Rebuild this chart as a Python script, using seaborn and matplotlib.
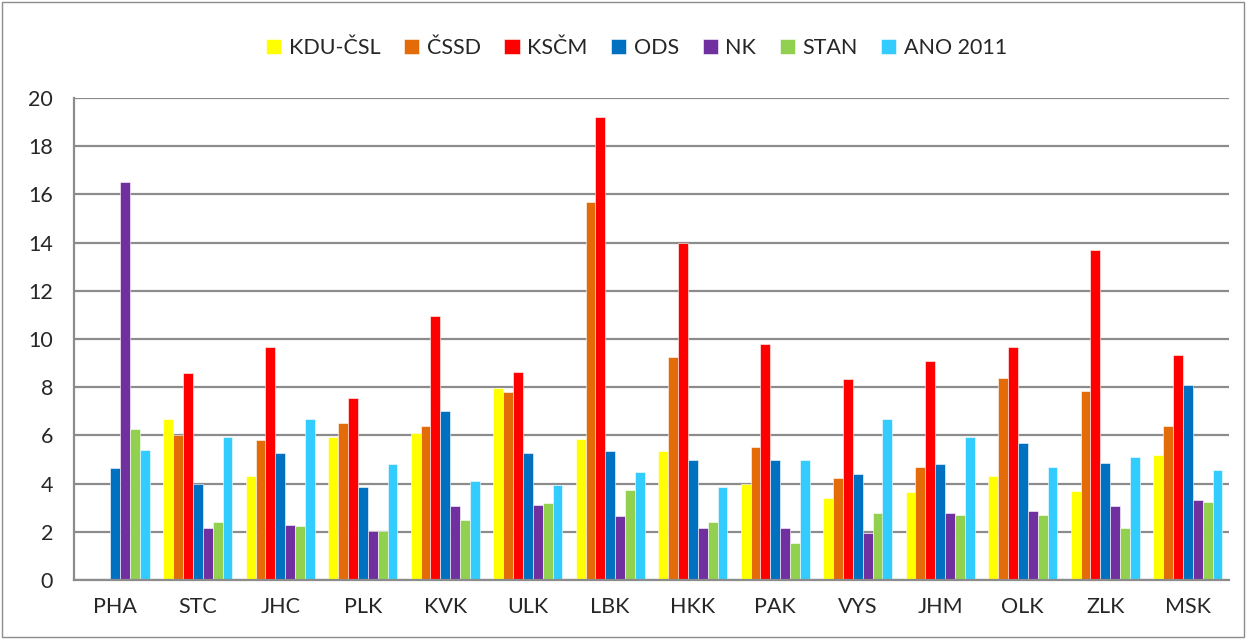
import matplotlib
matplotlib.use('Agg')
import matplotlib.pyplot as plt
import seaborn as sns
import pandas as pd
import numpy as np

# regions (kraje)
regions = ['PHA', 'STC', 'JHC', 'PLK', 'KVK', 'ULK', 'LBK', 'HKK', 'PAK', 'VYS', 'JHM', 'OLK', 'ZLK', 'MSK']
parties = ['KDU-ČSL', 'ČSSD', 'KSČM', 'ODS', 'NK', 'STAN', 'ANO 2011']

kdu = [0, 6.7, 4.3, 5.95, 6.1, 7.95, 5.85, 5.35, 4.0, 3.4, 3.65, 4.3, 3.7, 5.2]
cssd = [0, 6.0, 5.8, 6.5, 6.4, 7.8, 15.7, 9.25, 5.5, 4.25, 4.7, 8.4, 7.85, 6.4]
kscm = [0, 8.6, 9.65, 7.55, 10.95, 8.65, 19.2, 14.0, 9.8, 8.35, 9.1, 9.65, 13.7, 9.35]
ods = [4.65, 4.0, 5.25, 3.85, 7.0, 5.25, 5.35, 5.0, 5.0, 4.4, 4.8, 5.7, 4.85, 8.1]
nk = [16.5, 2.15, 2.3, 2.05, 3.05, 3.1, 2.65, 2.15, 2.15, 1.95, 2.8, 2.85, 3.05, 3.3]
stan = [6.25, 2.4, 2.25, 2.05, 2.5, 3.2, 3.75, 2.4, 1.55, 2.8, 2.7, 2.7, 2.15, 3.25]
ano = [5.4, 5.95, 6.7, 4.8, 4.1, 3.95, 4.5, 3.85, 5.0, 6.7, 5.95, 4.7, 5.1, 4.55]

colors = ['#FFFF00', '#E36C09', '#FF0000', '#0070C0', '#7030A0', '#92D050', '#33CCFF']

values = [kdu, cssd, kscm, ods, nk, stan, ano]
df = pd.DataFrame({
    'region': np.repeat([regions], len(parties), axis=0).ravel(),
    'party': np.repeat(parties, len(regions)),
    'value': np.concatenate(values),
})

sns.set_style('white')
plt.rcParams['font.family'] = ['Lato', 'DejaVu Sans']

fig = plt.figure(figsize=(12.46, 6.39), dpi=100)
ax = fig.add_axes([74/1246, 1 - 580/639, (1229-74)/1246, (580-98)/639])

sns.barplot(data=df, x='region', y='value', hue='party', order=regions, hue_order=parties,
            palette=colors, saturation=1, width=0.84, edgecolor='white', linewidth=0.4,
            ax=ax, legend=True)

ax.set_ylim(0, 20)
ax.set_xlim(-0.5, len(regions) - 0.5)
ax.set_yticks(range(0, 21, 2))
ax.yaxis.grid(True, color='#8c8c8c', linewidth=1.6)
ax.set_axisbelow(True)
ax.set_xlabel('')
ax.set_ylabel('')

for s in ['top', 'right']:
    ax.spines[s].set_visible(False)
for s in ['left', 'bottom']:
    ax.spines[s].set_color('#8c8c8c')
    ax.spines[s].set_linewidth(1.6)

ax.set_xticks(np.arange(-0.5, len(regions)), minor=True)
ax.tick_params(axis='x', which='major', length=0, labelsize=15.5, pad=12)
ax.tick_params(axis='x', which='minor', length=6, color='#8c8c8c', width=1.6, direction='out')
ax.tick_params(axis='y', length=6, color='#8c8c8c', width=1.6, direction='out', labelsize=15.5, pad=9)

handles, labels = ax.get_legend_handles_labels()
ax.legend_.remove()
fig.legend(handles, labels, loc='center', bbox_to_anchor=(0.511, 1 - 48/639), ncol=7,
           frameon=False, fontsize=15.5, handlelength=0.7, handleheight=0.7,
           handletextpad=0.35, columnspacing=1.1)

fig.patches.append(plt.Rectangle((0.002, 0.003), 0.996, 0.994, transform=fig.transFigure,
                                 fill=False, edgecolor='#8c8c8c', linewidth=1))

fig.savefig('out.png', dpi=100)
